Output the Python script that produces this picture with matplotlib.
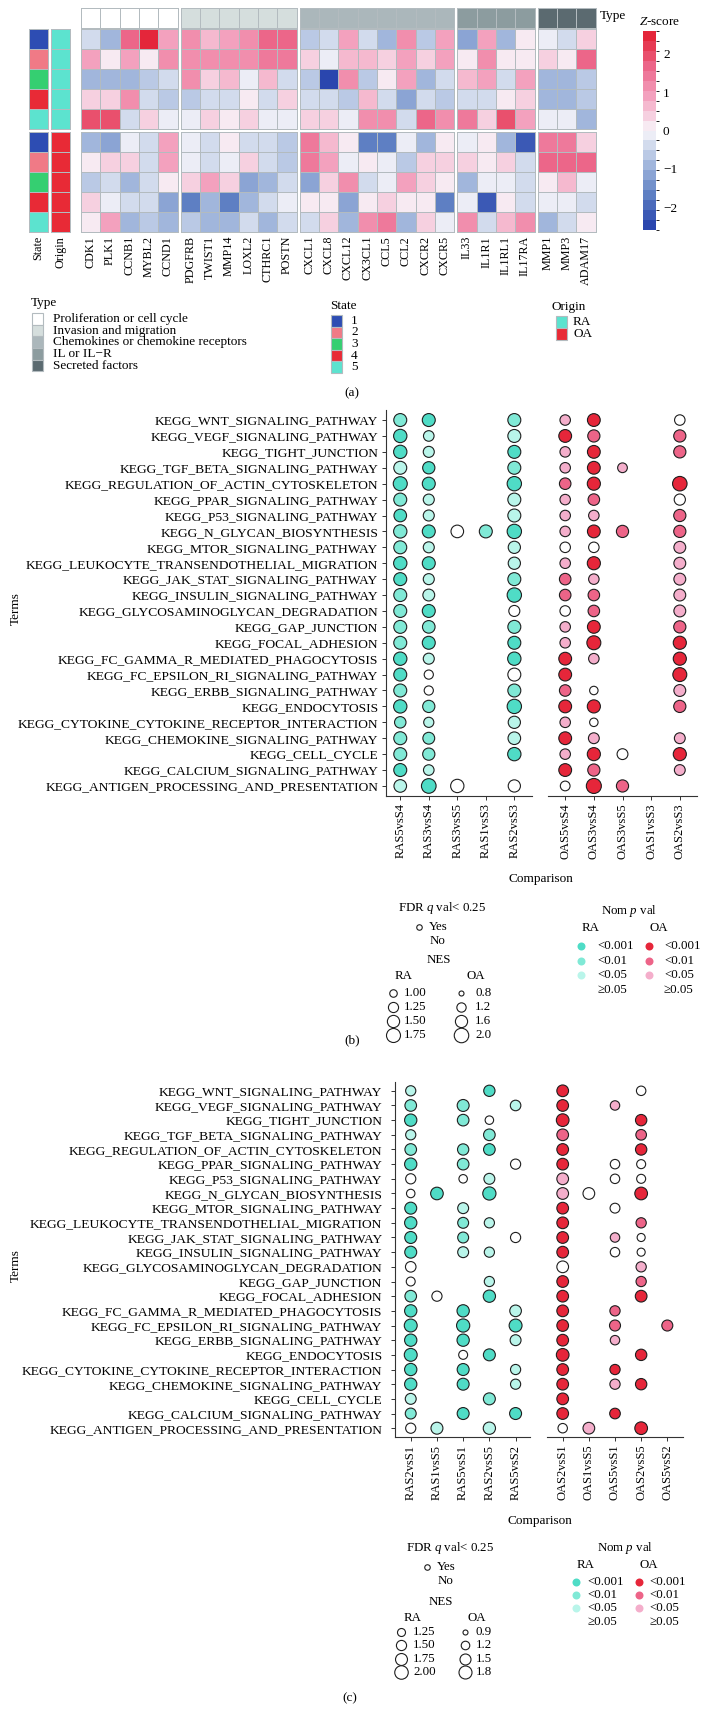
import numpy as np
import matplotlib
matplotlib.use("Agg")
import matplotlib.pyplot as plt
from matplotlib.colors import LinearSegmentedColormap, ListedColormap, BoundaryNorm
from matplotlib.cm import ScalarMappable
from matplotlib.patches import Rectangle

plt.rcParams["font.family"] = ["Liberation Serif", "DejaVu Serif"]
plt.rcParams["mathtext.fontset"] = "custom"
plt.rcParams["mathtext.rm"] = "Liberation Serif"
plt.rcParams["mathtext.it"] = "Liberation Serif:italic"

N = None

# ---------------- panel (a): heatmap data ----------------
GENES = ["CDK1", "PLK1", "CCNB1", "MYBL2", "CCND1",
         "PDGFRB", "TWIST1", "MMP14", "LOXL2", "CTHRC1", "POSTN",
         "CXCL1", "CXCL8", "CXCL12", "CX3CL1", "CCL5", "CCL2", "CXCR2", "CXCR5",
         "IL33", "IL1R1", "IL1RL1", "IL17RA",
         "MMP1", "MMP3", "ADAM17"]
GENE_TYPE = [0, 0, 0, 0, 0, 1, 1, 1, 1, 1, 1, 2, 2, 2, 2, 2, 2, 2, 2, 3, 3, 3, 3, 4, 4, 4]
TYPE_NAMES = ["Proliferation or cell cycle", "Invasion and migration",
              "Chemokines or chemokine receptors", "IL or IL\u2212R", "Secreted factors"]
TYPE_COLORS = ["#ffffff", "#d5dedd", "#abb7bb", "#8c9c9f", "#5b6a70"]
STATES = ["1", "2", "3", "4", "5"]
STATE_COLORS = ["#2d4db3", "#f07a86", "#35cf71", "#e82a36", "#5ce3cf"]
ORIGINS = ["RA", "OA"]
ORIGIN_COLORS = ["#5ce3cf", "#e82a36"]

Z_RA = [
    [-0.4, -0.8, 1.6, 2.5, 0.9, 1.1, 0.6, 0.9, 1.1, 1.6, 1.6, -0.6, -0.3, 0.9, -0.3, -0.9, 1.1, -0.6, 0.9, -1.2, 0.9, -0.8, 0.0, -0.1, -0.5, 0.4],
    [0.8, 0.1, 0.9, 0.1, 1.1, 1.1, 1.3, 1.2, 1.3, 1.5, 1.5, 0.3, -0.05, 0.7, 0.7, 0.4, 0.9, 0.4, 0.9, 0.0, 1.2, 0.0, 0.1, 0.4, 0.1, 1.6],
    [-0.9, -0.9, -0.9, -0.6, -0.3, 1.1, 0.3, 0.6, -0.05, 0.6, -0.5, -0.7, -2.5, 1.2, -0.6, 0.05, 1.0, -0.8, -0.5, 0.6, 0.8, -0.4, 0.8, -0.8, -1.0, -0.6],
    [0.3, 0.3, 1.1, -0.5, -0.6, -0.7, -0.3, -0.3, 0.1, -0.3, 0.5, -0.5, -0.5, -0.6, 0.6, -0.3, -1.1, -0.5, -0.6, -0.5, -0.5, 0.1, 0.3, -0.8, -0.8, -0.6],
    [1.9, 2.0, -0.3, 0.5, -0.05, -0.05, 0.5, 0.1, 0.3, -0.2, -0.05, 0.5, 0.5, -0.05, 1.1, 1.2, -0.3, 1.6, 1.2, 1.4, 0.4, 2.0, 0.9, -0.1, -0.1, -0.8],
]
Z_OA = [
    [-0.9, -1.1, -0.1, -0.5, 0.9, -0.1, -0.3, 0.1, -0.3, -0.3, -0.6, 1.4, 0.6, 0.1, -1.8, -1.8, -0.05, -1.0, 0.1, -0.05, 0.05, -1.0, -2.3, 1.5, 1.5, 0.4],
    [0.1, 0.3, 0.3, -0.3, 0.8, -0.1, -0.3, -0.1, 0.5, -0.3, -0.6, 1.4, 0.9, -0.05, 0.1, -0.1, -0.6, 0.5, 0.4, 0.3, 0.1, 0.5, -0.3, 1.6, 1.6, 1.6],
    [-0.6, -0.3, -0.9, -0.5, 0.1, 0.5, 0.8, 0.4, -1.3, -0.9, -0.5, -1.3, 0.3, 1.2, -0.3, -0.05, 1.0, 0.4, 0.1, -0.9, -0.05, -0.1, -0.3, 0.1, 0.6, -0.05],
    [0.3, -0.05, -0.3, -0.5, -1.3, -1.6, -1.0, -1.6, -1.0, -0.3, -0.05, 0.1, 0.1, -1.3, 0.1, 0.4, 0.1, 0.05, -1.6, -0.05, -2.2, 0.1, -0.5, -0.05, -0.05, -0.4],
    [0.1, 0.9, -0.8, -0.6, -0.8, -0.6, -1.0, -1.0, -0.3, -0.9, -0.5, -0.3, 0.5, -0.9, 1.1, 1.4, -1.0, 0.5, -0.05, 1.2, -0.5, 0.6, 1.1, -0.9, -0.4, 0.1],
]

# ---------------- panels (b), (c): GSEA dot plots ----------------
TERMS = ["KEGG_WNT_SIGNALING_PATHWAY", "KEGG_VEGF_SIGNALING_PATHWAY", "KEGG_TIGHT_JUNCTION",
         "KEGG_TGF_BETA_SIGNALING_PATHWAY", "KEGG_REGULATION_OF_ACTIN_CYTOSKELETON",
         "KEGG_PPAR_SIGNALING_PATHWAY", "KEGG_P53_SIGNALING_PATHWAY", "KEGG_N_GLYCAN_BIOSYNTHESIS",
         "KEGG_MTOR_SIGNALING_PATHWAY", "KEGG_LEUKOCYTE_TRANSENDOTHELIAL_MIGRATION",
         "KEGG_JAK_STAT_SIGNALING_PATHWAY", "KEGG_INSULIN_SIGNALING_PATHWAY",
         "KEGG_GLYCOSAMINOGLYCAN_DEGRADATION", "KEGG_GAP_JUNCTION", "KEGG_FOCAL_ADHESION",
         "KEGG_FC_GAMMA_R_MEDIATED_PHAGOCYTOSIS", "KEGG_FC_EPSILON_RI_SIGNALING_PATHWAY",
         "KEGG_ERBB_SIGNALING_PATHWAY", "KEGG_ENDOCYTOSIS",
         "KEGG_CYTOKINE_CYTOKINE_RECEPTOR_INTERACTION", "KEGG_CHEMOKINE_SIGNALING_PATHWAY",
         "KEGG_CELL_CYCLE", "KEGG_CALCIUM_SIGNALING_PATHWAY",
         "KEGG_ANTIGEN_PROCESSING_AND_PRESENTATION"]

PVAL_LABELS = ["<0.001", "<0.01", "<0.05", "\u22650.05"]
RA_COLORS = ["#4fdcc6", "#80e9d6", "#b9f5ea", "#ffffff"]
OA_COLORS = ["#e6263a", "#ed6488", "#f4aecb", "#ffffff"]

# p-value class (0: <0.001, 1: <0.01, 2: <0.05, 3: >=0.05), None = not shown
B_RA_COLS = ["RAS5vsS4", "RAS3vsS4", "RAS3vsS5", "RAS1vsS3", "RAS2vsS3"]
B_RA_P = [
    [1, 0, 0, 2, 0, 1, 0, 1, 1, 0, 0, 1, 1, 1, 1, 0, 0, 1, 0, 1, 1, 1, 0, 2],
    [0, 2, 2, 0, 0, 2, 2, 0, 2, 0, 2, 2, 0, 1, 0, 2, 3, 3, 1, 2, 1, 1, 2, 0],
    [N, N, N, N, N, N, N, 3, N, N, N, N, N, N, N, N, N, N, N, N, N, N, N, 3],
    [N, N, N, N, N, N, N, 1, N, N, N, N, N, N, N, N, N, N, N, N, N, N, N, N],
    [1, 2, 0, 1, 0, 2, 2, 0, 2, 2, 1, 0, 3, 1, 0, 0, 3, 1, 0, 2, 2, 0, N, 3],
]
B_RA_NES = [
    [1.6, 1.65, 1.65, 1.6, 1.75, 1.6, 1.55, 1.65, 1.6, 1.65, 1.6, 1.6, 1.6, 1.6, 1.6, 1.65, 1.6, 1.6, 1.65, 1.4, 1.6, 1.6, 1.6, 1.55],
    [1.6, 1.3, 1.35, 1.5, 1.6, 1.35, 1.35, 1.6, 1.35, 1.6, 1.35, 1.45, 1.6, 1.55, 1.6, 1.35, 1.15, 1.15, 1.5, 1.25, 1.45, 1.5, 1.3, 1.85],
    [N, N, N, N, N, N, N, 1.55, N, N, N, N, N, N, N, N, N, N, N, N, N, N, N, 1.65],
    [N, N, N, N, N, N, N, 1.6, N, N, N, N, N, N, N, N, N, N, N, N, N, N, N, N],
    [1.6, 1.6, 1.6, 1.6, 1.8, 1.6, 1.6, 1.8, 1.5, 1.5, 1.6, 1.8, 1.35, 1.6, 1.6, 1.65, 1.6, 1.6, 1.8, 1.5, 1.55, 1.65, N, 1.5],
]
B_OA_COLS = ["OAS5vsS4", "OAS3vsS4", "OAS3vsS5", "OAS1vsS3", "OAS2vsS3"]
B_OA_P = [
    [2, 0, 2, 2, 1, 2, 2, 2, 3, 2, 1, 1, 3, 2, 2, 0, 0, 1, 0, 2, 0, 2, 0, 3],
    [0, 1, 0, 0, 0, 1, 2, 0, 3, 0, 2, 1, 1, 0, 0, 2, N, 3, 0, 3, 2, 0, 1, 0],
    [N, N, N, 2, N, N, N, 1, N, N, N, N, N, N, N, N, N, N, N, N, N, 3, N, 1],
    [N, N, N, N, N, N, N, N, N, N, N, N, N, N, N, N, N, N, N, N, N, N, N, N],
    [3, 1, 1, N, 0, 3, 1, 1, 2, 2, 2, 2, 2, 1, 0, 0, 0, 2, 1, N, 2, 0, 2, N],
]
B_OA_NES = [
    [1.35, 1.7, 1.35, 1.35, 1.5, 1.35, 1.35, 1.35, 1.35, 1.35, 1.5, 1.5, 1.35, 1.35, 1.35, 1.7, 1.7, 1.5, 1.7, 1.35, 1.7, 1.35, 1.7, 1.25],
    [1.7, 1.6, 1.7, 1.7, 1.75, 1.5, 1.35, 1.7, 1.35, 1.75, 1.35, 1.5, 1.5, 1.7, 1.9, 1.35, N, 1.1, 1.75, 1.1, 1.4, 1.75, 1.6, 2.1],
    [N, N, N, 1.25, N, N, N, 1.6, N, N, N, N, N, N, N, N, N, N, N, N, N, 1.4, N, 1.6],
    [N, N, N, N, N, N, N, N, N, N, N, N, N, N, N, N, N, N, N, N, N, N, N, N],
    [1.35, 1.6, 1.6, N, 2.0, 1.45, 1.6, 1.6, 1.55, 1.55, 1.55, 1.55, 1.55, 1.6, 1.75, 1.75, 1.9, 1.55, 1.6, N, 1.4, 1.75, 1.4, N],
]

C_RA_COLS = ["RAS2vsS1", "RAS1vsS5", "RAS5vsS1", "RAS2vsS5", "RAS5vsS2"]
C_RA_P = [
    [2, 1, 0, 2, 1, 0, 3, 3, 0, 0, 0, 0, 3, 3, 1, 0, 0, 0, 0, 0, 0, 2, 1, 3],
    [N, N, N, N, N, N, N, 0, N, N, N, N, N, N, 3, N, N, N, N, N, N, N, N, 2],
    [N, 1, 1, N, 1, 1, 3, N, 2, 1, 1, 2, N, N, N, 0, 0, 0, 3, 0, 0, N, 0, N],
    [0, N, 3, 1, 0, N, 2, 0, N, 2, N, 2, N, 2, 0, N, N, N, 0, N, N, 1, N, 2],
    [N, 2, N, N, N, 3, N, N, N, N, 3, N, N, N, N, 2, 0, 2, N, 2, 2, N, 0, N],
]
C_RA_NES = [
    [1.5, 1.7, 1.8, 1.5, 1.7, 1.8, 1.5, 1.3, 1.75, 1.8, 1.75, 1.75, 1.55, 1.35, 1.7, 1.8, 1.9, 1.8, 1.9, 1.8, 1.8, 1.6, 1.6, 1.5],
    [N, N, N, N, N, N, N, 1.85, N, N, N, N, N, N, 1.5, N, N, N, N, N, N, N, N, 1.75],
    [N, 1.75, 1.7, N, 1.65, 1.7, 1.3, N, 1.6, 1.6, 1.6, 1.6, N, N, N, 1.8, 1.95, 1.8, 1.35, 1.75, 1.75, N, 1.75, N],
    [1.65, N, 1.3, 1.7, 1.7, N, 1.6, 1.95, N, 1.5, N, 1.5, N, 1.5, 1.8, N, N, N, 1.75, N, N, 1.75, N, 1.8],
    [N, 1.55, N, N, N, 1.5, N, N, N, N, 1.5, N, N, N, N, 1.7, 1.9, 1.6, N, 1.5, 1.5, N, 1.75, N],
]
C_OA_COLS = ["OAS2vsS1", "OAS1vsS5", "OAS5vsS1", "OAS2vsS5", "OAS5vsS2"]
C_OA_P = [
    [0, 0, 0, 1, 0, 0, 2, 2, 0, 0, 0, 0, 3, 0, 0, 0, 0, 0, 0, 0, 0, 0, 0, 3],
    [N, N, N, N, N, N, N, 3, N, N, N, N, N, N, N, N, N, N, N, N, N, N, N, 2],
    [N, 2, N, N, N, 3, 3, N, 3, N, 2, 3, N, N, N, 1, 1, 2, N, 0, 2, N, 0, N],
    [3, N, 0, 1, 0, 3, 3, 0, N, 1, 3, 3, 2, 1, 0, N, N, N, 0, N, 0, N, N, 0],
    [N, N, N, N, N, N, N, N, N, N, N, N, N, N, N, N, 1, N, N, N, N, N, N, N],
]
C_OA_NES = [
    [1.6, 1.6, 1.75, 1.6, 1.6, 1.6, 1.6, 1.6, 1.6, 1.6, 1.6, 1.6, 1.6, 1.6, 1.6, 1.6, 1.6, 1.6, 1.75, 1.6, 1.6, 1.6, 1.6, 1.3],
    [N, N, N, N, N, N, N, 1.6, N, N, N, N, N, N, N, N, N, N, N, N, N, N, N, 1.6],
    [N, 1.3, N, N, N, 1.3, 1.3, N, 1.35, N, 1.3, 1.3, N, N, N, 1.4, 1.5, 1.3, N, 1.4, 1.4, N, 1.45, N],
    [1.3, N, 1.55, 1.45, 1.55, 1.25, 1.25, 1.75, N, 1.4, 1.15, 1.15, 1.4, 1.4, 1.6, N, N, N, 1.55, N, 1.55, N, N, 1.75],
    [N, N, N, N, N, N, N, N, N, N, N, N, N, N, N, N, 1.5, N, N, N, N, N, N, N],
]

B_NES_RA_LEG = [1.00, 1.25, 1.50, 1.75]
B_NES_OA_LEG = [0.8, 1.2, 1.6, 2.0]
C_NES_RA_LEG = [1.25, 1.50, 1.75, 2.00]
C_NES_OA_LEG = [0.9, 1.2, 1.5, 1.8]

# ---------------- figure ----------------
W, H = 705, 1710
fig = plt.figure(figsize=(W / 100, H / 100), dpi=100)


def px_axes(x0, y0, x1, y1, zorder=1):
    return fig.add_axes([x0 / W, 1 - y1 / H, (x1 - x0) / W, (y1 - y0) / H], zorder=zorder)


ov = px_axes(0, 0, W, H, zorder=0)
ov.set_xlim(0, W)
ov.set_ylim(H, 0)
ov.axis("off")

# --- heatmap
EDGE = "#b3bbbf"
CELL_W, CELL_H = 19.3, 20.0
GAP_W, GAP_H = 3.2, 2.6
HM_LEFT, ROW_TOP, TYPE_TOP = 81, 29, 8

zbase = LinearSegmentedColormap.from_list(
    "z", ["#2a46ae", "#6183c4", "#a9bddf", "#f8f6fa", "#f4a8c4", "#ec6a8e", "#e4263a"])
zcmap = ListedColormap(zbase(np.linspace(0, 1, 20)))
znorm = BoundaryNorm(np.linspace(-2.6, 2.6, 21), 20)
type_cmap = ListedColormap(TYPE_COLORS)
type_norm = BoundaryNorm(np.arange(-0.5, len(TYPE_COLORS)), len(TYPE_COLORS))


def block(x0, y0, data, cmap, norm):
    data = np.asarray(data, dtype=float)
    nrow, ncol = data.shape
    ax = px_axes(x0, y0, x0 + ncol * CELL_W, y0 + nrow * CELL_H)
    ax.pcolormesh(data, cmap=cmap, norm=norm, edgecolors=EDGE, linewidth=0.7, clip_on=False)
    ax.set_xlim(0, ncol)
    ax.set_ylim(nrow, 0)
    ax.axis("off")
    return ax


# column groups
groups = []
x = HM_LEFT
for g in range(len(TYPE_NAMES)):
    idx = [i for i, t in enumerate(GENE_TYPE) if t == g]
    groups.append((idx[0], idx[-1] + 1, x))
    x += len(idx) * CELL_W + GAP_W

for a, b, gx in groups:
    block(gx, TYPE_TOP, [GENE_TYPE[a:b]], type_cmap, type_norm)
    for i in range(a, b):
        ov.text(gx + (i - a + 0.5) * CELL_W, 236, GENES[i], rotation=90,
                ha="center", va="top", fontsize=8.7)

state_cmap = ListedColormap(STATE_COLORS)
origin_cmap = ListedColormap(ORIGIN_COLORS)
for r, zdata in enumerate([Z_RA, Z_OA]):
    y0 = ROW_TOP + r * (len(STATES) * CELL_H + GAP_H)
    zarr = np.asarray(zdata)
    for a, b, gx in groups:
        block(gx, y0, zarr[:, a:b], zcmap, znorm)
    block(29, y0, [[k] for k in range(len(STATES))], state_cmap,
          BoundaryNorm(np.arange(-0.5, len(STATES)), len(STATES)))
    block(51, y0, [[r]] * len(STATES), origin_cmap, BoundaryNorm([-0.5, 0.5, 1.5], 2))

ov.text(38.5, 236, "State", rotation=90, ha="center", va="top", fontsize=8.7)
ov.text(60.5, 236, "Origin", rotation=90, ha="center", va="top", fontsize=8.7)
ov.text(600, 16, "Type", va="center", ha="left", fontsize=9.5)

cax = px_axes(643, 31, 656, 230)
cb = fig.colorbar(ScalarMappable(norm=znorm, cmap=zcmap), cax=cax, ticks=[-2, -1, 0, 1, 2])
cb.outline.set_visible(False)
cax.tick_params(length=0, labelsize=9.5, pad=5)
ov.text(660, 22, "$Z$-score", ha="center", va="center", fontsize=9.5)

# heatmap legends
ov.text(31, 303, "Type", ha="left", va="center", fontsize=9.5)
for i, (name, col) in enumerate(zip(TYPE_NAMES, TYPE_COLORS)):
    yy = 313 + i * 11.7
    ov.add_patch(Rectangle((32, yy), 11, 11.7, facecolor=col, edgecolor=EDGE, lw=0.8))
    ov.text(53, yy + 5.9, name, ha="left", va="center", fontsize=9.5)

ov.text(343, 306, "State", ha="center", va="center", fontsize=9.5)
for i, (name, col) in enumerate(zip(STATES, STATE_COLORS)):
    yy = 315 + i * 11.6
    ov.add_patch(Rectangle((331, yy), 11, 11.6, facecolor=col, edgecolor=EDGE, lw=0.8))
    ov.text(351, yy + 5.8, name, ha="left", va="center", fontsize=9.5)

ov.text(569, 307, "Origin", ha="center", va="center", fontsize=9.5)
for i, (name, col) in enumerate(zip(ORIGINS, ORIGIN_COLORS)):
    yy = 316 + i * 12
    ov.add_patch(Rectangle((556, yy), 11, 12, facecolor=col, edgecolor=EDGE, lw=0.8))
    ov.text(573, yy + 6, name, ha="left", va="center", fontsize=9.5)

ov.text(352, 393, "(a)", ha="center", va="center", fontsize=9.5)


# --- dot plots
def diam(v, rng):
    vmin, vmax, dmin, dmax = rng
    frac = (np.asarray(v, dtype=float) - vmin) / (vmax - vmin)
    return np.sqrt(dmin ** 2 + frac * (dmax ** 2 - dmin ** 2))


def area(d):
    return (d * 72 / 100) ** 2


def dot_axes(box, cols, pvals, nes, colors, rng, xlim, left, ypad=2.5):
    ax = px_axes(*box, zorder=2)
    xs, ys, ss, cs = [], [], [], []
    for j, (pcol, ncol) in enumerate(zip(pvals, nes)):
        for i, (p, v) in enumerate(zip(pcol, ncol)):
            if p is None:
                continue
            xs.append(j)
            ys.append(i)
            ss.append(area(diam(v, rng)))
            cs.append(colors[p])
    ax.scatter(xs, ys, s=ss, c=cs, edgecolors="#1e1e1e", linewidths=0.8, zorder=3, clip_on=False)
    ax.set_xlim(*xlim)
    ax.set_ylim(len(TERMS) - 1 + 0.6, -0.6)
    ax.set_xticks(range(len(cols)))
    ax.set_xticklabels(cols, rotation=90, fontsize=9)
    for s in ["top", "right"]:
        ax.spines[s].set_visible(False)
    ax.spines["bottom"].set_linewidth(0.8)
    ax.spines["bottom"].set_color("#333333")
    if left:
        ax.set_yticks(range(len(TERMS)))
        ax.set_yticklabels(TERMS, fontsize=9.7)
        ax.spines["left"].set_linewidth(0.8)
        ax.spines["left"].set_color("#333333")
    else:
        ax.set_yticks([])
        ax.spines["left"].set_visible(False)
    ax.tick_params(axis="x", length=3, width=0.7, color="#333333", pad=2.5)
    ax.tick_params(axis="y", length=3, width=0.7, color="#333333", pad=ypad)
    ax.set_facecolor("none")
    return ax


def legends(fdr, nes_hdr, ra_leg, oa_leg, ra_rng, oa_rng, nes_x, nes_y0, nes_dy,
            pv_title, pv_x, pv_y0, pv_dy, fs=9.3):
    fx, fy = fdr
    ov.text(fx, fy, "FDR $q$ val< 0.25", ha="center", va="center", fontsize=fs)
    ov.scatter([fx - 23], [fy + 18.5], s=area(5.5), facecolors="white", edgecolors="#1e1e1e", linewidths=0.8)
    ov.text(fx - 13, fy + 18.5, "Yes", ha="left", va="center", fontsize=fs)
    ov.text(fx - 12, fy + 33, "No", ha="left", va="center", fontsize=fs)
    hx, hy = nes_hdr
    ov.text(hx, hy, "NES", ha="center", va="center", fontsize=fs)
    (rcx, rtx), (ocx, otx) = nes_x
    ov.text(rtx, hy + 15.5, "RA", ha="center", va="center", fontsize=fs)
    ov.text(otx + 1, hy + 15.5, "OA", ha="center", va="center", fontsize=fs)
    for k, (rv, ovl) in enumerate(zip(ra_leg, oa_leg)):
        yy = nes_y0 + k * nes_dy
        ov.scatter([rcx], [yy], s=area(diam(rv, ra_rng)), facecolors="white",
                   edgecolors="#1e1e1e", linewidths=0.8)
        ov.text(rtx, yy, f"{rv:.2f}", ha="left", va="center", fontsize=fs)
        ov.scatter([ocx], [yy], s=area(diam(ovl, oa_rng)), facecolors="white",
                   edgecolors="#1e1e1e", linewidths=0.8)
        ov.text(otx, yy, f"{ovl:.1f}", ha="left", va="center", fontsize=fs)
    tx, ty = pv_title
    ov.text(tx, ty, "Nom $p$ val", ha="center", va="center", fontsize=fs)
    (rdx, rlx), (odx, olx) = pv_x
    ov.text(rdx + 10, ty + 17, "RA", ha="center", va="center", fontsize=fs)
    ov.text(odx + 10, ty + 17, "OA", ha="center", va="center", fontsize=fs)
    for k, lab in enumerate(PVAL_LABELS):
        yy = pv_y0 + k * pv_dy
        if k < 3:
            ov.scatter([rdx], [yy], s=area(8), color=RA_COLORS[k], linewidths=0)
            ov.scatter([odx], [yy], s=area(8), color=OA_COLORS[k], linewidths=0)
        ov.text(rlx, yy, lab, ha="left", va="center", fontsize=fs)
        ov.text(olx, yy, lab, ha="left", va="center", fontsize=fs)


# panel (b)
B_RA_RNG = (1.0, 1.75, 7.5, 14.0)
B_OA_RNG = (0.8, 2.0, 5.0, 14.5)
dot_axes((386, 410.5, 532, 795.5), B_RA_COLS, B_RA_P, B_RA_NES, RA_COLORS, B_RA_RNG, (-0.5, 4.62), True)
dot_axes((548, 410.5, 697, 795.5), B_OA_COLS, B_OA_P, B_OA_NES, OA_COLORS, B_OA_RNG, (-0.6, 4.6), False)
ov.text(16, 609, "Terms", rotation=90, ha="center", va="center", fontsize=9.5)
ov.text(541, 879, "Comparison", ha="center", va="center", fontsize=9.5)
legends((442, 908), (439, 960), B_NES_RA_LEG, B_NES_OA_LEG, B_RA_RNG, B_OA_RNG,
        ((393, 404), (461, 475)), 993, 14.0, (629, 911), ((581, 597), (649, 664)), 946, 14.5)
ov.text(352, 1040, "(b)", ha="center", va="center", fontsize=9.5)

# panel (c)
C_RA_RNG = (1.25, 2.0, 8.0, 13.5)
C_OA_RNG = (0.9, 1.8, 5.0, 13.0)
dot_axes((395, 1082, 530, 1437), C_RA_COLS, C_RA_P, C_RA_NES, RA_COLORS, C_RA_RNG, (-0.6, 4.55), True, ypad=6)
dot_axes((547, 1082, 683, 1437), C_OA_COLS, C_OA_P, C_OA_NES, OA_COLORS, C_OA_RNG, (-0.6, 4.6), False)
ov.text(16, 1266, "Terms", rotation=90, ha="center", va="center", fontsize=9.5)
ov.text(540, 1521, "Comparison", ha="center", va="center", fontsize=9.5)
legends((450, 1548), (441, 1602), C_NES_RA_LEG, C_NES_OA_LEG, C_RA_RNG, C_OA_RNG,
        ((401, 413), (465, 476)), 1632, 13.3, (625, 1548), ((576, 587), (639, 649)), 1582, 13.2)
ov.text(350, 1698, "(c)", ha="center", va="center", fontsize=9.5)

fig.savefig("out.png", dpi=100)
